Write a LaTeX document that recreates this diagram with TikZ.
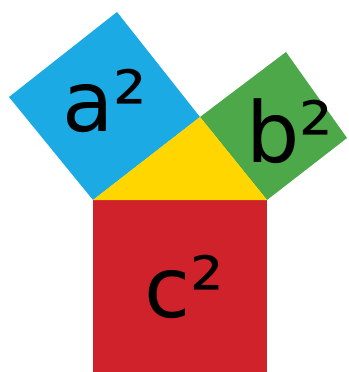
\documentclass[tikz,border=0pt]{standalone}
\usepackage{fontspec}
\setmainfont{DejaVu Sans}
\definecolor{sqblue}{RGB}{28,170,228}
\definecolor{sqgreen}{RGB}{76,168,72}
\definecolor{sqyellow}{RGB}{255,214,0}
\definecolor{sqred}{RGB}{208,34,42}
\begin{document}
\begin{tikzpicture}[x=1pt,y=-1pt,
  square/.style={line join=round},
  label/.style={anchor=base, inner sep=0pt, font=\fontsize{84}{84}\selectfont}]
\useasboundingbox (0,0) rectangle (348,372);
\coordinate (A) at (93,200);
\coordinate (B) at (267,200);
\coordinate (C) at (200,117);
\fill[sqred, square] (A) -- (B) -- (267,372) -- (93,372) -- cycle;
\fill[sqblue, square] (A) -- (C) -- (117,12) -- (9,97) -- cycle;
\fill[sqgreen, square] (C) -- (B) -- (347,138) -- (286,52) -- cycle;
\fill[sqyellow] (A) -- (C) -- (B) -- cycle;
\node[label] (asq) at (105,131) {a²};
\node[label] (bsq) at (290,162) {b²};
\node[label] (csq) at (184,317) {c²};
\end{tikzpicture}
\end{document}
